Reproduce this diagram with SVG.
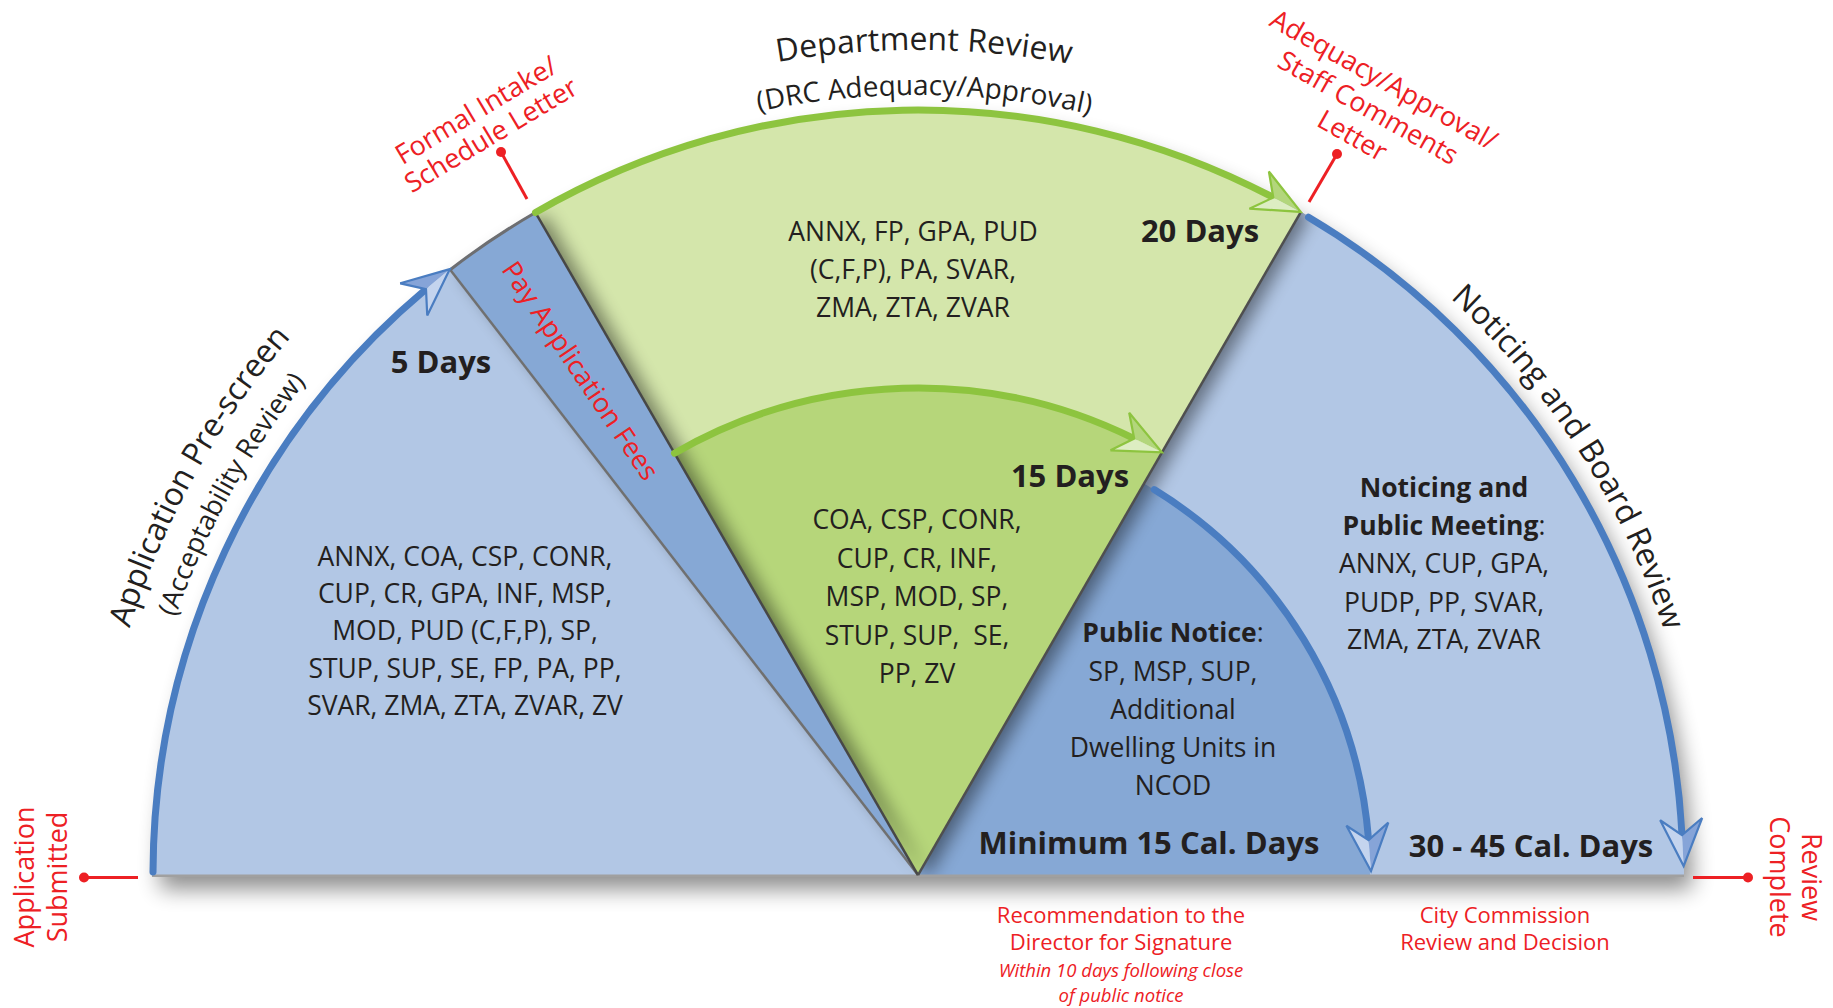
<svg xmlns="http://www.w3.org/2000/svg" width="1833" height="1008" viewBox="0 0 1833 1008">
<defs>
<style>
.t{font-family:"Open Sans","Liberation Sans",sans-serif;fill:#231f20}
.l{font-size:26.5px;text-anchor:middle}
.bd{font-weight:700}
.dy{font-size:31px;font-weight:700;text-anchor:middle}
.r{font-family:"Open Sans","Liberation Sans",sans-serif;fill:#ed2024}
.rl{font-size:27px;text-anchor:middle}
.rb{font-size:22px;text-anchor:middle}
.ri{font-size:18.5px;font-style:italic;text-anchor:middle}
.lb{fill:#b2c7e5}
.db{fill:#86a8d5}
.ba{fill:none;stroke:#4a7dc1;stroke-width:7;stroke-linecap:round}
.ga{fill:none;stroke:#8dc43f;stroke-width:7;stroke-linecap:round}
.pin{stroke:#ed2024;stroke-width:3;fill:none}
.dot{fill:#ed2024}
</style>
<filter id="outer" x="-10%" y="-10%" width="125%" height="130%">
<feGaussianBlur in="SourceAlpha" stdDeviation="11"/>
<feOffset dx="8" dy="14" result="o"/>
<feComponentTransfer><feFuncA type="linear" slope="0.45"/></feComponentTransfer>
<feMerge><feMergeNode/><feMergeNode in="SourceGraphic"/></feMerge>
</filter>
<filter id="side" x="-20%" y="-20%" width="140%" height="140%">
<feGaussianBlur in="SourceAlpha" stdDeviation="9"/>
<feOffset dx="10" dy="2"/>
<feComponentTransfer><feFuncA type="linear" slope="0.45"/></feComponentTransfer>
<feMerge><feMergeNode/><feMergeNode in="SourceGraphic"/></feMerge>
</filter>
<clipPath id="semi"><path d="M918 875 L152 875 A766 766 0 0 1 1684 875 Z"/></clipPath>
<marker id="mB" markerUnits="userSpaceOnUse" markerWidth="60" markerHeight="50" viewBox="0 0 60 50" refX="18" refY="25" orient="auto" overflow="visible">
<path d="M49 25 L2 4 L18 25 Z" fill="#86a4d8"/>
<path d="M49 25 L18 25 L2 46 Z" fill="#c4d4ee"/>
<path d="M49 25 L2 4 L18 25 L2 46 Z" fill="none" stroke="#4a7dc1" stroke-width="2.2"/>
</marker>
<marker id="mG" markerUnits="userSpaceOnUse" markerWidth="60" markerHeight="50" viewBox="0 0 60 50" refX="18" refY="25" orient="auto" overflow="visible">
<path d="M49 25 L2 4 L18 25 Z" fill="#b3d67c"/>
<path d="M49 25 L18 25 L2 46 Z" fill="#ddedc2"/>
<path d="M49 25 L2 4 L18 25 L2 46 Z" fill="none" stroke="#8dc43f" stroke-width="2.2"/>
</marker>
<path id="pDept" d="M203.5 462.5 A825 825 0 0 1 1632.5 462.5"/>
<path id="pDrc" d="M242.5 485 A780 780 0 0 1 1593.5 485"/>
<path id="pApp" d="M209.9 1300.4 A826 826 0 0 1 903.6 49.1"/>
<path id="pAcc" d="M244.2 1279.8 A786 786 0 0 1 904.3 89.1"/>
<path id="pNot" d="M881 90.9 A785 785 0 0 1 1615.6 1235"/>
</defs>

<rect width="1833" height="1008" fill="#ffffff"/>

<g id="base">
<path d="M918 875 L152 875 A766 766 0 0 1 1684 875 Z" fill="#b2c7e5" filter="url(#outer)"/>
</g>

<g clip-path="url(#semi)">
<g id="sector-noticing-board">
<path class="lb" d="M918 875 L1300.5 212.5 A765 765 0 0 1 1683 875 Z"/>
</g>
<g id="sector-public-notice">
<path class="db" d="M918 875 L1144 483.6 A452 452 0 0 1 1370 875 Z"/>
</g>
<g id="sector-department-review" filter="url(#side)">
<path d="M918 875 L535.5 212.5 A765 765 0 0 1 1300.5 212.5 Z" fill="#d4e6ab"/>
<path id="sector-department-inner" d="M918 875 L674.5 453.2 A487 487 0 0 1 1161.5 453.2 Z" fill="#b6d67a"/>
</g>
<g id="sector-prescreen">
<path class="lb" d="M918 875 L153 875 A765 765 0 0 1 450.2 269.7 Z"/>
</g>
<g id="sector-pay-fees" filter="url(#side)">
<path class="db" d="M918 875 L450.2 269.7 A765 765 0 0 1 535.5 212.5 Z"/>
</g>
</g>

<g id="connectors">
<line x1="152" y1="875.8" x2="1684" y2="875.8" stroke="#a0a0a0" stroke-width="2.5"/>
<line x1="918" y1="875" x2="450.2" y2="269.7" stroke="#707070" stroke-width="2.5"/>
<line x1="918" y1="875" x2="535.5" y2="212.5" stroke="#474747" stroke-width="2.5"/>
<line x1="918" y1="875" x2="1300.5" y2="212.5" stroke="#4f4f4f" stroke-width="2.5"/>
<path d="M450.2 269.7 A765 765 0 0 1 535.5 212.5" fill="none" stroke="#6d6e71" stroke-width="3"/>
<path class="ba" d="M153 872 A765 765 0 0 1 426 289.1" marker-end="url(#mB)"/>
<path class="ga" d="M535.5 212.5 A765 765 0 0 1 1273.3 197.5" marker-end="url(#mG)"/>
<path class="ga" d="M674.5 453.2 A487 487 0 0 1 1134.2 438.6" marker-end="url(#mG)"/>
<path class="ba" d="M1308.5 217.2 A765 765 0 0 1 1682 835.1" marker-end="url(#mB)"/>
<path class="ba" d="M1154.2 489.6 A452 452 0 0 1 1368.6 840.1" marker-end="url(#mB)"/>
<line class="pin" x1="84" y1="877.5" x2="138" y2="877.5"/>
<circle class="dot" cx="84" cy="877.5" r="5"/>
<line class="pin" x1="1693" y1="877.5" x2="1748" y2="877.5"/>
<circle class="dot" cx="1748" cy="877.5" r="5"/>
<line class="pin" x1="501" y1="152" x2="527" y2="199"/>
<circle class="dot" cx="501" cy="152" r="5"/>
<line class="pin" x1="1337" y1="154" x2="1309" y2="202"/>
<circle class="dot" cx="1337" cy="154" r="5"/>
</g>

<g id="label-department-review" class="t">
<text font-size="32"><textPath href="#pDept" startOffset="50.35%" text-anchor="middle">Department Review</textPath></text>
<text font-size="28"><textPath href="#pDrc" startOffset="50.4%" text-anchor="middle">(DRC Adequacy/Approval)</textPath></text>
</g>
<g id="label-prescreen" class="t">
<text font-size="32"><textPath href="#pApp" startOffset="50%" text-anchor="middle">Application Pre-screen</textPath></text>
<text font-size="27"><textPath href="#pAcc" startOffset="50%" text-anchor="middle">(Acceptability Review)</textPath></text>
</g>
<g id="label-noticing-board" class="t">
<text font-size="32"><textPath href="#pNot" startOffset="50%" text-anchor="middle">Noticing and Board Review</textPath></text>
</g>

<g id="text-prescreen" class="t l">
<text x="465" y="565.6">ANNX, COA, CSP, CONR,</text>
<text x="465" y="603">CUP, CR, GPA, INF, MSP,</text>
<text x="465" y="640.4">MOD, PUD (C,F,P), SP,</text>
<text x="465" y="677.8">STUP, SUP, SE, FP, PA, PP,</text>
<text x="465" y="715.1">SVAR, ZMA, ZTA, ZVAR, ZV</text>
</g>
<text class="t dy" x="441" y="373">5 Days</text>

<g id="text-department" class="t l">
<text x="913" y="241">ANNX, FP, GPA, PUD</text>
<text x="913" y="279">(C,F,P), PA, SVAR,</text>
<text x="913" y="317">ZMA, ZTA, ZVAR</text>
</g>
<text class="t dy" x="1200" y="242">20 Days</text>

<g id="text-department-inner" class="t l">
<text x="917" y="529">COA, CSP, CONR,</text>
<text x="917" y="567.5">CUP, CR, INF,</text>
<text x="917" y="606">MSP, MOD, SP,</text>
<text x="917" y="645" xml:space="preserve">STUP, SUP,  SE,</text>
<text x="917" y="683">PP, ZV</text>
</g>
<text class="t dy" x="1070" y="487">15 Days</text>

<g id="text-public-notice" class="t l">
<text x="1173" y="642"><tspan class="bd">Public Notice</tspan>:</text>
<text x="1173" y="681">SP, MSP, SUP,</text>
<text x="1173" y="719">Additional</text>
<text x="1173" y="757">Dwelling Units in</text>
<text x="1173" y="795">NCOD</text>
</g>
<text class="t dy" x="1149" y="854" font-size="31.5">Minimum 15 Cal. Days</text>

<g id="text-noticing" class="t l">
<text x="1444" y="497" class="bd">Noticing and</text>
<text x="1444" y="535"><tspan class="bd">Public Meeting</tspan>:</text>
<text x="1444" y="573">ANNX, CUP, GPA,</text>
<text x="1444" y="612">PUDP, PP, SVAR,</text>
<text x="1444" y="649">ZMA, ZTA, ZVAR</text>
</g>
<text class="t dy" x="1531" y="857">30 - 45 Cal. Days</text>

<g id="label-pay" class="r rl">
<text transform="translate(580 371) rotate(56)" y="9">Pay Application Fees</text>
</g>
<g id="label-formal-intake" class="r rl" transform="translate(483.5 122.5) rotate(-31)">
<text x="0" y="-5">Formal Intake/</text>
<text x="0" y="24">Schedule Letter</text>
</g>
<g id="label-adequacy" class="r rl" transform="translate(1368 108) rotate(29.5)">
<text x="0" y="-23">Adequacy/Approval/</text>
<text x="0" y="9">Staff Comments</text>
<text x="0" y="41">Letter</text>
</g>
<g id="label-submitted" class="r rl" transform="translate(34 877) rotate(-90)">
<text x="0" y="0">Application</text>
<text x="0" y="33">Submitted</text>
</g>
<g id="label-complete" class="r rl" transform="translate(1802 877) rotate(90)">
<text x="0" y="0">Review</text>
<text x="0" y="32">Complete</text>
</g>
<g id="label-recommendation" class="r">
<text class="rb" x="1121" y="923">Recommendation to the</text>
<text class="rb" x="1121" y="950">Director for Signature</text>
<text class="ri" x="1121" y="977">Within 10 days following close</text>
<text class="ri" x="1121" y="1002">of public notice</text>
</g>
<g id="label-city" class="r">
<text class="rb" x="1505" y="923">City Commission</text>
<text class="rb" x="1505" y="950">Review and Decision</text>
</g>
</svg>
